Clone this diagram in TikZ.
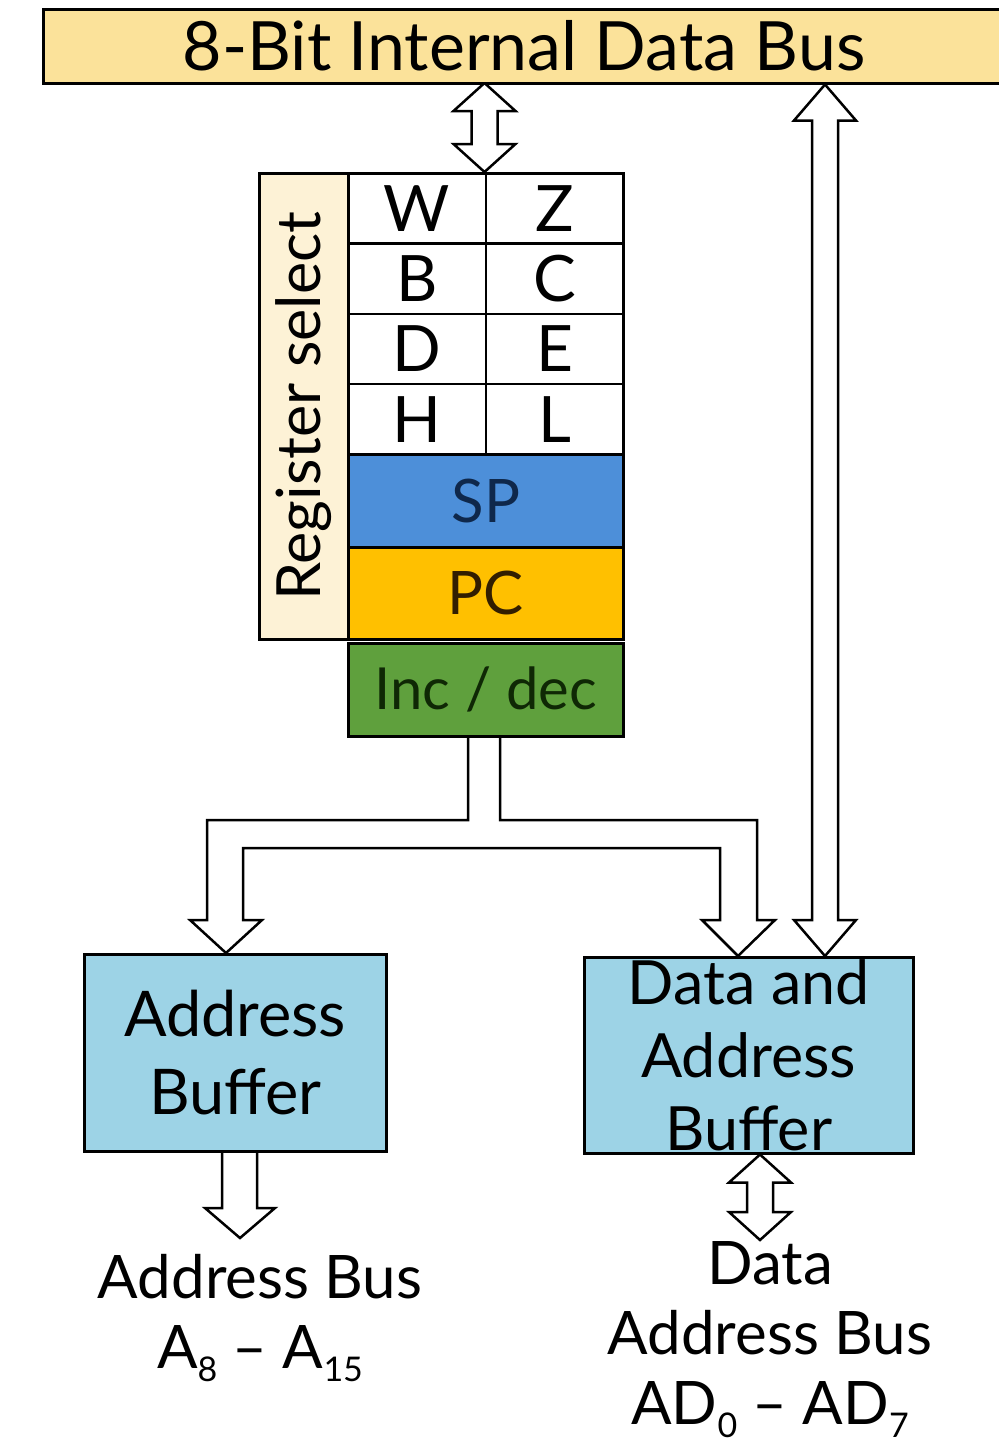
\documentclass[tikz,border=0pt]{standalone}
\usepackage{fontspec}
\setmainfont{Lato}
\usetikzlibrary{calc,backgrounds}

\definecolor{busyellow}{HTML}{FBE29A}
\definecolor{selcream}{HTML}{FDF2D6}
\definecolor{spblue}{HTML}{4D8FD9}
\definecolor{pcgold}{HTML}{FFC000}
\definecolor{incgreen}{HTML}{5FA03D}
\definecolor{bufblue}{HTML}{9DD3E6}

\tikzset{
    box/.style={draw, line width=2.5pt, inner sep=0pt, anchor=north west, align=center},
    cell/.style={box, fill=white, minimum width=137.5pt, minimum height=70.25pt, font=\fontsize{64}{64}\selectfont},
    wide/.style={box, minimum width=275pt, minimum height=93pt, font=\fontsize{60}{60}\selectfont},
    buffer/.style={box, fill=bufblue, font=\fontsize{61}{73}\selectfont},
    hollow/.style={draw, line width=2.5pt, fill=white, line join=miter},
    label/.style={align=center, font=\fontsize{60}{70}\selectfont}
}

% small lowered index for bus pin names
\newcommand{\pinidx}[1]{\raisebox{-13pt}{\fontsize{34}{34}\selectfont #1}}

% vertical hollow bus arrow with a head at both ends
\newcommand{\bidir}[3]{%
    \draw[hollow] let \p1=#1, \p2=#2 in
        (\x1,\y1) -- (\x1+31pt,\y1-#3) -- (\x1+13pt,\y1-#3) -- (\x1+13pt,\y2+#3)
        -- (\x1+31pt,\y2+#3) -- (\x1,\y2) -- (\x1-31pt,\y2+#3) -- (\x1-13pt,\y2+#3)
        -- (\x1-13pt,\y1-#3) -- (\x1-31pt,\y1-#3) -- cycle;}

\begin{document}
\begin{tikzpicture}[x=1pt, y=-1pt]
    \useasboundingbox (0,0) rectangle (999,1449);

    % internal bus
    \node[box, fill=busyellow, minimum width=980pt, minimum height=74pt] (bus) at (42,8) {};
    \node[font=\fontsize{68}{68}\selectfont] (bustext) at (524,46) {8-Bit Internal Data Bus};

    % register file
    \node[box, fill=selcream, minimum width=89pt, minimum height=466pt] (sel) at (258,172) {};
    \node[rotate=90, font=\fontsize{61}{61}\selectfont] (seltext) at (sel.center) {Register select};

    \foreach \l/\r [count=\i] in {W/Z,B/C,D/E,H/L}
    {
        \node[cell] (left\i) at (347,{172+70.25*(\i-1)}) {\l};
        \node[cell] (right\i) at (484.5,{172+70.25*(\i-1)}) {\r};
    }

    \node[wide, fill=spblue, text={rgb,255:red,15;green,40;blue,75}] (sp) at (347,453) {SP};
    \node[wide, fill=pcgold, minimum height=92pt, text={rgb,255:red,50;green,30;blue,0}] (pc) at (347,546) {PC};
    \node[wide, fill=incgreen, font=\fontsize{58}{58}\selectfont, text={rgb,255:red,15;green,40;blue,5}] (inc) at (347,642) {Inc / dec};

    % buffers
    \node[box, fill=bufblue, font=\fontsize{63}{78}\selectfont, minimum width=302pt, minimum height=197pt] (abuf) at (83,953) {Address\\Buffer};
    \node[buffer, minimum width=329pt, minimum height=196pt] (dbuf) at (583,956) {Data and\\Address\\Buffer};

    % outside labels
    \node[label] (abus) at (260,1318) {Address Bus\\A\pinidx{8} -- A\pinidx{15}};
    \node[label] (dbus) at (770,1340) {Data\\Address Bus\\AD\pinidx{0} -- AD\pinidx{7}};

    \begin{scope}[on background layer]
    % bus arrows
    \coordinate (topl) at (484.5,83);
    \coordinate (topr) at (825,83);
    \coordinate (ioc) at (760,1240);
    \coordinate (atip) at (226,0);
    \coordinate (dtip) at (738,0);
    \bidir{(topl)}{(left1.north east)}{28pt}
    \bidir{(topr |- bus.south)}{(topr |- dbuf.north)}{36pt}
    \bidir{(ioc |- dbuf.south)}{(ioc)}{28pt}

    % address buffer output
    \draw[hollow] (222,1150) -- (222,1208) -- (205,1208) -- (240,1238)
        -- (275,1208) -- (257,1208) -- (257,1150);

    % fork from inc / dec to both buffers
    \draw[hollow] (468,735) -- (468,820) -- (207,820) -- (207,920) -- (190,920)
        -- (atip |- abuf.north) -- (262,920) -- (243,920) -- (243,848) -- (720,848)
        -- (720,920) -- (702,920) -- (dtip |- dbuf.north) -- (775,920) -- (757,920)
        -- (757,820) -- (500,820) -- (500,735);
    \end{scope}
\end{tikzpicture}
\end{document}
